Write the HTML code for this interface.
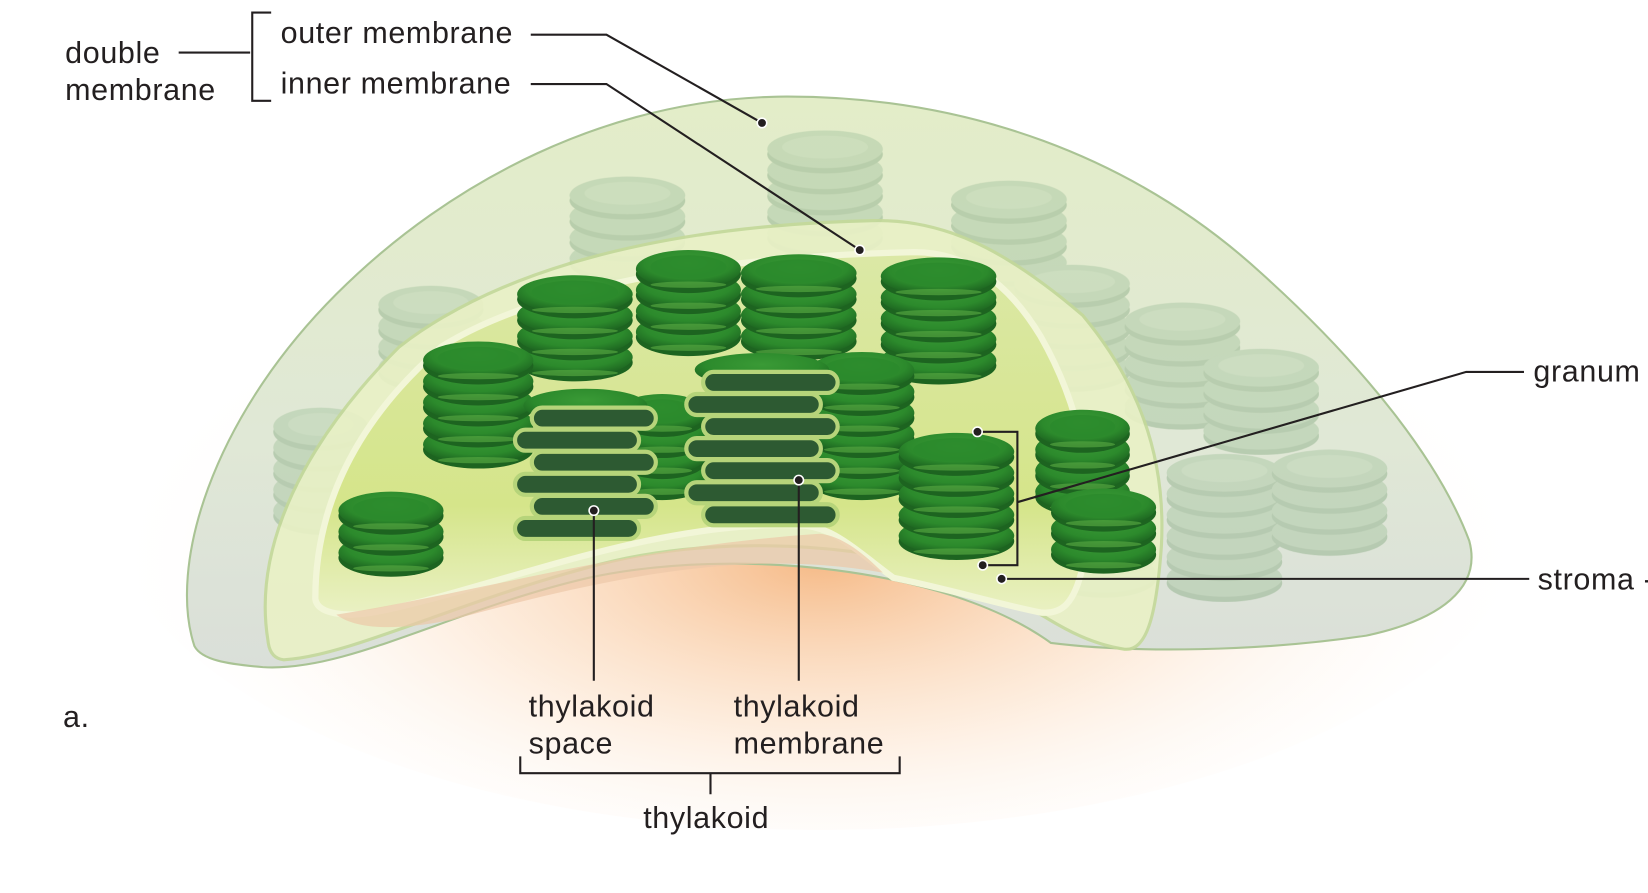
<!DOCTYPE html>
<html><head><meta charset="utf-8"><style>
html,body{margin:0;padding:0;background:#fff;width:1648px;height:893px;overflow:hidden}
svg{display:block}
text{font-family:"Liberation Sans",sans-serif;font-size:29px;letter-spacing:0.6px;fill:#231f20}
</style></head><body>
<svg id="s" width="1648" height="893" viewBox="0 0 1568 850" preserveAspectRatio="none" xmlns="http://www.w3.org/2000/svg">
<defs>
<radialGradient id="glow" cx="0.5" cy="0.6" r="0.5">
<stop offset="0" stop-color="#f4ae72" stop-opacity="0.85"/>
<stop offset="0.5" stop-color="#fbd6b4" stop-opacity="0.45"/>
<stop offset="1" stop-color="#fff" stop-opacity="0"/>
</radialGradient>
<linearGradient id="shell" x1="0" y1="0" x2="0" y2="1">
<stop offset="0" stop-color="#e3edc8"/><stop offset="0.6" stop-color="#e0e8d6"/><stop offset="1" stop-color="#dadfd9"/>
</linearGradient>
<linearGradient id="inner" x1="0" y1="0" x2="0" y2="1">
<stop offset="0" stop-color="#dbe8a6"/><stop offset="0.7" stop-color="#d5e58a"/><stop offset="1" stop-color="#eaf1c4"/>
</linearGradient>
<radialGradient id="disc" cx="0.5" cy="0.35" r="0.6">
<stop offset="0" stop-color="#3a9a36"/><stop offset="0.7" stop-color="#2c8a2c"/><stop offset="1" stop-color="#1f6a22"/>
</radialGradient>
</defs>
<ellipse cx="780" cy="470" rx="680" ry="320" fill="url(#glow)"/>
<path d="M185,615 C160,540 200,400 320,280 C430,170 580,95 740,92 C920,90 1080,150 1200,260 C1300,350 1370,440 1398,515 C1410,560 1370,590 1300,605 C1200,620 1080,622 1000,612 C900,540 700,520 560,550 C430,580 330,640 250,635 C215,632 192,628 185,615 Z" fill="url(#shell)" stroke="#a9c394" stroke-width="2"/>
<g id="back" opacity="0.5"></g>
<path d="M255,610 C240,520 290,420 380,330 C470,260 620,215 830,210 C900,208 960,240 1030,300 C1080,360 1110,430 1105,520 C1100,590 1090,620 1070,618 C1030,612 1000,590 990,585 C900,520 700,500 560,540 C430,575 330,625 270,628 C260,627 256,620 255,610 Z" fill="#e9f1c6" stroke="#c4d99a" stroke-width="3" opacity="0.9"/>
<path d="M300,570 C300,480 340,400 420,330 C500,280 650,245 870,240 C920,240 960,270 990,320 C1030,390 1045,470 1030,540 C1022,575 1010,585 990,583 C950,575 900,560 850,550 C810,520 790,500 760,500 C620,495 470,560 360,582 C330,588 302,585 300,570 Z" fill="url(#inner)" stroke="#f2f6d8" stroke-width="6"/>
<path d="M320,585 C450,565 600,520 780,508 C800,510 820,525 840,545 C700,520 560,555 430,590 C380,600 340,600 320,585 Z" fill="#ecc7a8" opacity="0.7"/>
<g id="front"></g>
<g id="cut"></g>

<g stroke="#231f20" stroke-width="2" fill="none">
<path d="M170,50 H238 M258,12 H240 V96 H258"/>
<path d="M505,33 H577 L725,117"/>
<path d="M505,80 H577 L818,238"/>
<path d="M1450,354 H1395 L968,478 M930,411 H968 V538 H935"/>
<path d="M1455,551 H953"/>
<path d="M565,486 V648 M760,457 V648"/>
<path d="M495,720 V736 H856 V720 M676,736 V756"/>
</g>
<g fill="#231f20" stroke="#fff" stroke-width="1.5">
<circle cx="725" cy="117" r="4.5"/><circle cx="818" cy="238" r="4.5"/><circle cx="930" cy="411" r="4.5"/>
<circle cx="935" cy="538" r="4.5"/><circle cx="953" cy="551" r="4.5"/><circle cx="565" cy="486" r="4.5"/><circle cx="760" cy="457" r="4.5"/>
</g>
<text x="62" y="60">double</text>
<text x="62" y="95">membrane</text>
<text x="267" y="41">outer membrane</text>
<text x="267" y="89">inner membrane</text>
<text x="1459" y="363">granum</text>
<text x="1463" y="561">stroma -</text>
<text x="503" y="682">thylakoid</text>
<text x="503" y="717">space</text>
<text x="698" y="682">thylakoid</text>
<text x="698" y="717">membrane</text>
<text x="612" y="788">thylakoid</text>
<text x="60" y="692">a.</text>
</svg>
<script>
var NS="http://www.w3.org/2000/svg";
function mk(tag,attrs,parent){var e=document.createElementNS(NS,tag);for(var k in attrs)e.setAttribute(k,attrs[k]);parent.appendChild(e);return e;}
function stack(parent,cx,top,w,n,pale){
  var g=mk('g',{},parent);
  
  
  var ry=18,sp=20;
  for(var i=n-1;i>=0;i--){
    var y=top+i*sp+ry;
    mk('ellipse',{cx:cx,cy:y+5,rx:w/2,ry:ry,fill:pale?'#8fb08a':'#1d6420'},g);
    mk('ellipse',{cx:cx,cy:y,rx:w/2,ry:ry,fill:pale?'#a9c6a2':'url(#disc)'},g);
    if(!pale) mk('ellipse',{cx:cx,cy:y+ry-3,rx:w/2-14,ry:3,fill:'#5cae45',opacity:0.6},g);
  }
  mk('ellipse',{cx:cx,cy:top+ry-2,rx:w/2-14,ry:ry-7,fill:pale?'#b9d2b1':'#2a8a2c',opacity:0.8},g);
}
var back=document.getElementById('back'),front=document.getElementById('front'),cut=document.getElementById('cut');
[[597,168,110,4],[785,124,110,5],[960,172,110,5],[410,272,100,4],[1020,252,110,5],[1125,288,110,5],[1200,332,110,4],[1165,432,110,6],[1265,428,110,4],[305,388,90,5],[1050,468,100,4]].forEach(function(a){stack(back,a[0],a[1],a[2],a[3],true);});
[[547,262,110,4],[655,238,100,4],[760,242,110,4],[893,245,110,5],[455,325,105,5],[372,468,100,3],[630,375,85,4],[820,335,100,6],[910,412,110,5],[1030,390,90,4],[1050,465,100,3]].forEach(function(a){stack(front,a[0],a[1],a[2],a[3],false);});
function cutStack(cx,top,w,n){
  var g=mk('g',{},cut);
  
  
  mk('ellipse',{cx:cx,cy:top+8,rx:w/2,ry:16,fill:'url(#disc)'},g);
  mk('rect',{x:cx-w/2+20,y:top+10,width:w-40,height:n*21,fill:'#b6d47a'},g);
  for(var i=0;i<n;i++){
    var off=(i%2?-8:8);
    mk('rect',{x:cx-w/2+off,y:top+10+i*21,width:w,height:20,rx:10,fill:'#2d5a32',stroke:'#b6d47a','stroke-width':4},g);
  }
}
cutStack(557,378,118,6);
cutStack(725,344,128,7);
</script>
</body></html>
